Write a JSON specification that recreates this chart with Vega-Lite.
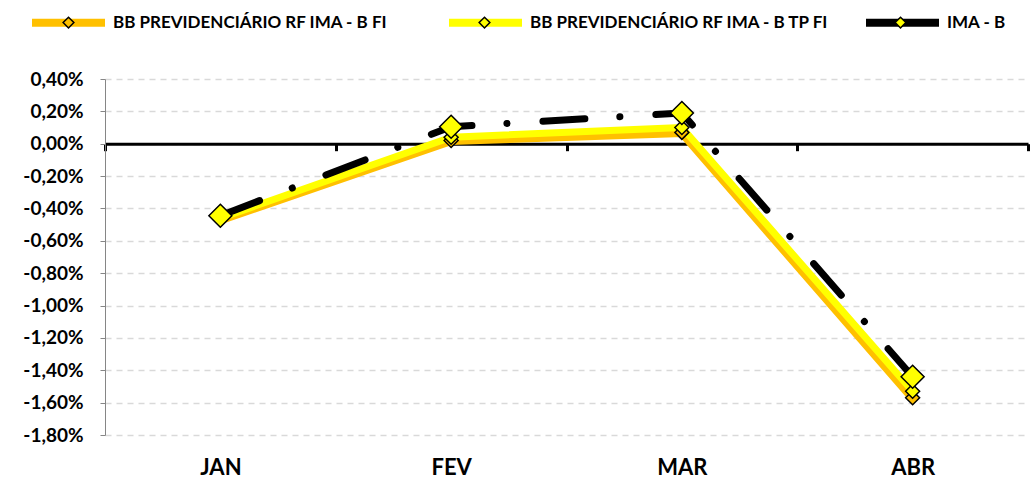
{
  "$schema": "https://vega.github.io/schema/vega-lite/v6.json",
  "width": 923,
  "height": 356,
  "autosize": {"type": "none"},
  "padding": {"left": 105, "top": 79, "right": 2, "bottom": 46},
  "background": "white",
  "config": {"view": {"stroke": null}, "font": "Lato"},
  "data": {"values": [
    {"month": "JAN", "series": "BB PREVIDENCIÁRIO RF IMA - B FI", "value": -0.0047},
    {"month": "FEV", "series": "BB PREVIDENCIÁRIO RF IMA - B FI", "value": 0.0002},
    {"month": "MAR", "series": "BB PREVIDENCIÁRIO RF IMA - B FI", "value": 0.0007},
    {"month": "ABR", "series": "BB PREVIDENCIÁRIO RF IMA - B FI", "value": -0.0157},
    {"month": "JAN", "series": "BB PREVIDENCIÁRIO RF IMA - B TP FI", "value": -0.0046},
    {"month": "FEV", "series": "BB PREVIDENCIÁRIO RF IMA - B TP FI", "value": 0.0004},
    {"month": "MAR", "series": "BB PREVIDENCIÁRIO RF IMA - B TP FI", "value": 0.0010},
    {"month": "ABR", "series": "BB PREVIDENCIÁRIO RF IMA - B TP FI", "value": -0.0153},
    {"month": "JAN", "series": "IMA - B", "value": -0.00445},
    {"month": "FEV", "series": "IMA - B", "value": 0.00105},
    {"month": "MAR", "series": "IMA - B", "value": 0.0019},
    {"month": "ABR", "series": "IMA - B", "value": -0.0144}
  ]},
  "encoding": {
    "x": {
      "field": "month", "type": "ordinal", "sort": ["JAN", "FEV", "MAR", "ABR"],
      "scale": {"paddingInner": 0, "paddingOuter": 0},
      "axis": {
        "title": null, "offset": -291.3, "grid": false,
        "domainColor": "black", "domainWidth": 3,
        "tickColor": "black", "tickWidth": 3, "tickSize": 7, "tickBand": "extent",
        "labelFont": "Lato", "labelFontSize": 22, "labelFontWeight": "bold", "labelColor": "black",
        "labelPadding": 307, "labelAngle": 0
      }
    },
    "y": {
      "field": "value", "type": "quantitative",
      "scale": {"domain": [-0.018, 0.004], "nice": false, "zero": false},
      "axis": {
        "title": null,
        "values": [-0.018, -0.016, -0.014, -0.012, -0.01, -0.008, -0.006, -0.004, -0.002, 0, 0.002, 0.004],
        "labelExpr": "replace(replace(format(datum.value, '.2%'), '.', ','), '−', '-')",
        "domainColor": "#868686", "domainWidth": 1,
        "tickColor": "#868686", "tickSize": 5,
        "grid": true, "gridColor": "#D9D9D9", "gridDash": [6, 5], "gridWidth": 1.5,
        "labelFont": "Lato", "labelFontSize": 19, "labelFontWeight": "bold", "labelColor": "black",
        "labelPadding": 17
      }
    }
  },
  "layer": [
    {
      "transform": [{"filter": "datum.series === 'BB PREVIDENCIÁRIO RF IMA - B FI'"}],
      "mark": {"type": "line", "strokeJoin": "round"},
      "encoding": {
        "color": {
          "field": "series", "type": "nominal",
          "scale": {"domain": ["BB PREVIDENCIÁRIO RF IMA - B FI", "BB PREVIDENCIÁRIO RF IMA - B TP FI", "IMA - B"], "range": ["#FFC000", "#FFFF00", "#000000"]},
          "legend": {
            "orient": "none", "legendX": -77, "legendY": -97, "direction": "horizontal", "columns": 3,
            "title": null, "symbolType": "stroke", "symbolSize": 5329, "symbolStrokeWidth": 8,
            "labelFont": "Lato", "labelFontSize": 17, "labelFontWeight": "bold", "labelColor": "black",
            "labelLimit": 0, "labelOffset": 4, "columnPadding": 20, "gridAlign": "all", "zindex": 0
          }
        },
        "strokeWidth": {"value": 9}
      }
    },
    {
      "transform": [{"filter": "datum.series === 'BB PREVIDENCIÁRIO RF IMA - B TP FI'"}],
      "mark": {"type": "line", "strokeJoin": "round"},
      "encoding": {
        "color": {"field": "series", "type": "nominal"},
        "strokeWidth": {"value": 7}
      }
    },
    {
      "transform": [{"filter": "datum.series === 'IMA - B'"}],
      "mark": {"type": "line", "strokeJoin": "round", "strokeCap": "round"},
      "encoding": {
        "color": {"field": "series", "type": "nominal"},
        "strokeWidth": {"value": 7},
        "strokeDash": {"value": [42, 35, 0.1, 36]}
      }
    },
    {
      "transform": [{"filter": "datum.series !== 'IMA - B'"}],
      "mark": {"type": "point", "filled": true, "opacity": 1, "stroke": "black", "strokeWidth": 1.5,
               "shape": "M0,-0.126L0.126,0L0,0.126L-0.126,0Z", "size": 12350},
      "encoding": {
        "fill": {
          "field": "series", "type": "nominal",
          "scale": {"range": ["#FFC000", "#FFFF00", "#FFFF00"]},
          "legend": {
            "orient": "none", "legendX": -77, "legendY": -97, "direction": "horizontal", "columns": 3,
            "title": null, "symbolType": "M0,-0.135L0.135,0L0,0.135L-0.135,0Z", "symbolSize": 6320,
            "symbolStrokeColor": "black", "symbolStrokeWidth": 1.5,
            "labelExpr": "''", "labelFontSize": 17,
            "labelLimit": 0, "labelOffset": 4, "columnPadding": 331, "gridAlign": "all", "zindex": 1
          }
        }
      }
    },
    {
      "transform": [{"filter": "datum.series === 'IMA - B'"}],
      "mark": {"type": "point", "filled": true, "opacity": 1, "stroke": "black", "strokeWidth": 1.5,
               "shape": "M0,-0.126L0.126,0L0,0.126L-0.126,0Z", "size": 33300},
      "encoding": {
        "fill": {"field": "series", "type": "nominal"}
      }
    }
  ]
}
